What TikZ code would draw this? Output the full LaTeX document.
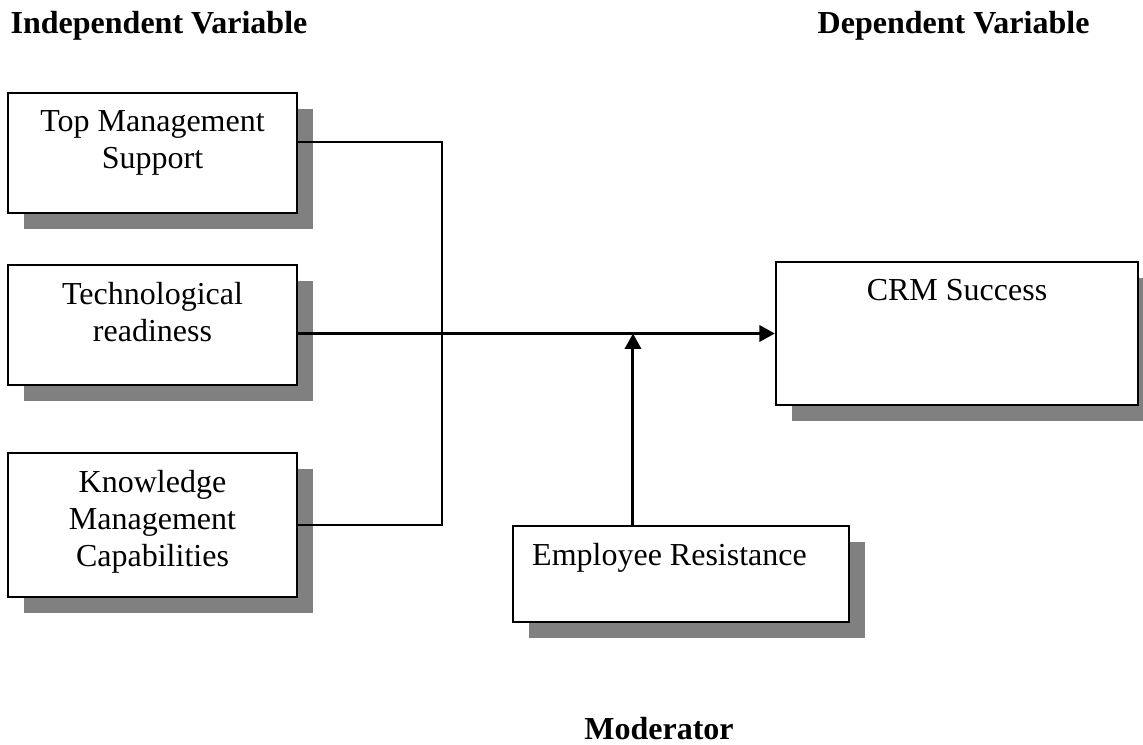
\documentclass[tikz,border=0pt]{standalone}
\usepackage{fontspec}
\setmainfont{Liberation Serif}
\usetikzlibrary{arrows.meta, positioning, shadows}

\begin{document}
\begin{tikzpicture}[
  x=0.01cm, y=-0.01cm,
  caja/.style={draw, fill=white, line width=0.6pt, inner sep=0pt,
               general shadow={fill=black!50, shadow xshift=0.16cm, shadow yshift=-0.16cm}},
  texto/.style={anchor=north, align=center, inner sep=0pt,
                font=\fontsize{9.1pt}{10.5pt}\selectfont},
  titulo/.style={anchor=base, inner sep=0pt,
                 font=\fontsize{9.1pt}{10.5pt}\selectfont\bfseries},
  linea/.style={line width=0.6pt},
  flecha/.style={line width=0.85pt, -{Triangle[length=4.4pt, width=4.6pt]}}
]
\useasboundingbox (0,0) rectangle (1143,744);

% cajas
\node[caja, minimum width=2.89cm, minimum height=1.2cm] (tms) at (152.5,153) {};
\node[caja, minimum width=2.89cm, minimum height=1.2cm] (tr) at (152.5,325) {};
\node[caja, minimum width=2.89cm, minimum height=1.44cm] (kmc) at (152.5,525) {};
\node[caja, minimum width=3.62cm, minimum height=1.43cm] (crm) at (957,333.5) {};
\node[caja, minimum width=3.36cm, minimum height=0.96cm] (er) at (681,574) {};

\node[texto] (tms-t) at ([yshift=-0.18cm]tms.north) {Top Management\\Support};
\node[texto] (tr-t) at ([yshift=-0.18cm]tr.north) {Technological\\readiness};
\node[texto] (kmc-t) at ([yshift=-0.18cm]kmc.north) {Knowledge\\Management\\Capabilities};
\node[texto] (crm-t) at ([yshift=-0.18cm]crm.north) {CRM Success};
\node[texto] (er-t) at ([xshift=-0.115cm, yshift=-0.18cm]er.north) {Employee Resistance};

% titulos
\node[titulo, anchor=base west] (indep) at (10,33) {Independent Variable};
\node[titulo, anchor=base west] (dep) at (817,33) {Dependent Variable};
\node[titulo] (mod) at (659,739) {Moderator};

% conexiones
\draw[linea] ([yshift=0.11cm]tms.east) -- ++(144,0) |- (kmc.east);
\draw[flecha] (tr.east |- crm.west) -- (crm.west);
\draw[flecha] ([xshift=-0.48cm]er.north) -- ([xshift=-0.48cm]er.north |- crm.west);
\end{tikzpicture}
\end{document}
